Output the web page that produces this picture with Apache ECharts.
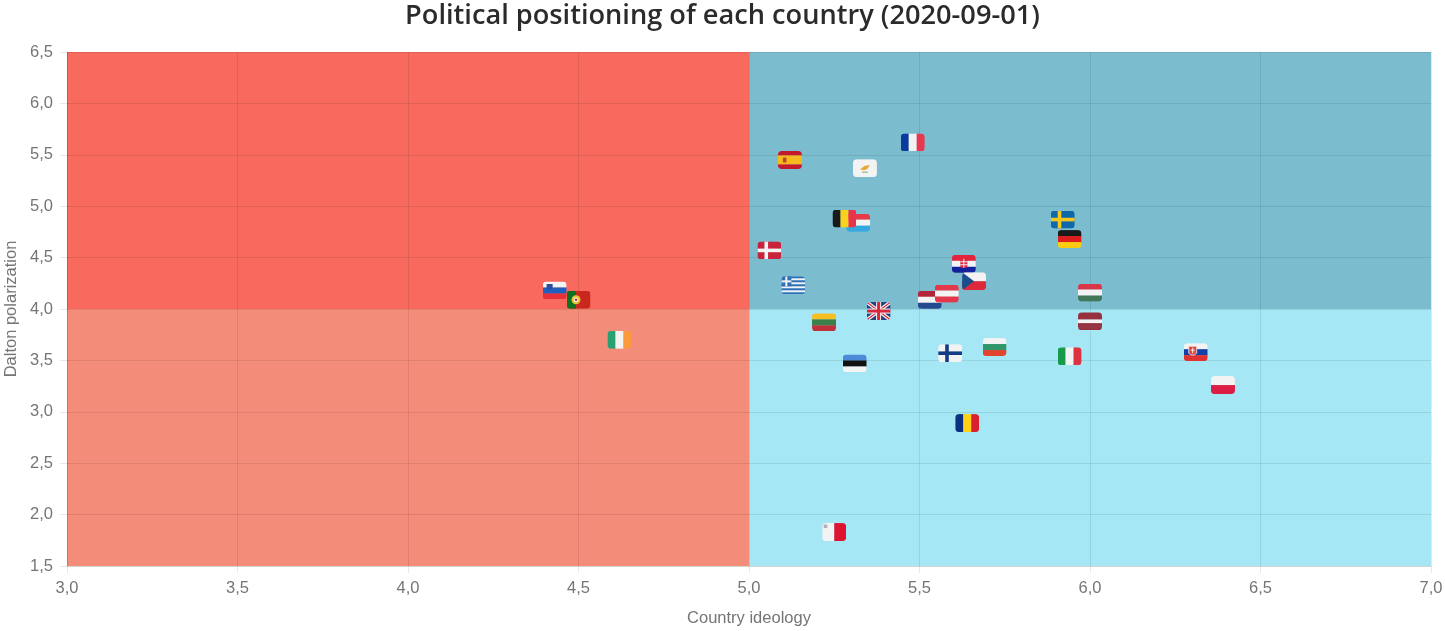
<!DOCTYPE html>
<html>
<head>
<meta charset="utf-8">
<title>Political positioning</title>
<style>
html, body { margin: 0; padding: 0; background: #fff; }
#chart { width: 1445px; height: 631px; }
</style>
<script src="https://cdn.jsdelivr.net/npm/echarts@6/dist/echarts.min.js"></script>
</head>
<body>
<div id="chart"></div>
<script>
var titleText = 'Political positioning of each country (2020-09-01)';
var xAxisName = 'Country ideology';
var yAxisName = 'Dalton polarization';

var countries = ['fr', 'es', 'cy', 'lu', 'be', 'dk', 'se', 'de', 'hr', 'cz', 'nl', 'at', 'hu', 'lv', 'si', 'pt', 'ie', 'gr', 'gb', 'lt', 'ee', 'fi', 'bg', 'it', 'sk', 'pl', 'ro', 'mt'];
var ideology = [5.48, 5.12, 5.34, 5.32, 5.28, 5.06, 5.92, 5.94, 5.63, 5.66, 5.53, 5.58, 6.00, 6.00, 4.43, 4.50, 4.62, 5.13, 5.38, 5.22, 5.31, 5.59, 5.72, 5.94, 6.31, 6.39, 5.64, 5.25];
var polarization = [5.62, 5.45, 5.37, 4.84, 4.88, 4.57, 4.87, 4.68, 4.44, 4.27, 4.09, 4.15, 4.16, 3.88, 4.18, 4.09, 3.70, 4.23, 3.98, 3.87, 3.47, 3.57, 3.63, 3.54, 3.58, 3.26, 2.89, 1.83];

var xMin = 3, xMax = 7, yMin = 1.5, yMax = 6.5;
var xSplit = 5, ySplit = 4;

function hStripes(colors) {
    var h = 18 / colors.length, s = '';
    colors.forEach(function (c, i) {
        s += '<rect x="0" y="' + (i * h) + '" width="24" height="' + (h + 0.2) + '" fill="' + c + '"/>';
    });
    return s;
}

function vStripes(colors) {
    var w = 24 / colors.length, s = '';
    colors.forEach(function (c, i) {
        s += '<rect x="' + (i * w) + '" y="0" width="' + (w + 0.2) + '" height="18" fill="' + c + '"/>';
    });
    return s;
}

function nordic(bg, cross) {
    return '<rect width="24" height="18" fill="' + bg + '"/>' +
        '<rect x="7" width="3.6" height="18" fill="' + cross + '"/>' +
        '<rect y="7.2" width="24" height="3.6" fill="' + cross + '"/>';
}

var flagArt = {
    fr: vStripes(['#0a3a9c', '#f2f2f2', '#e8384f']),
    es: hStripes(['#c4182c', '#f6b81f', '#f6b81f', '#c4182c']) + '<rect x="5" y="6.5" width="3.5" height="5" rx="1" fill="#b5482a"/>',
    cy: '<rect width="24" height="18" fill="#f3f3f3"/><path d="M7 10 L12 6.5 L17 6 L14 10 L11 11 Z" fill="#e6a73a"/><path d="M9 13 L15 13" stroke="#8aa86a" stroke-width="1"/>',
    lu: hStripes(['#e8394a', '#f3f3f3', '#35a8e0']),
    be: vStripes(['#1a1a1a', '#f7d31f', '#e8344a']),
    dk: nordic('#c8233c', '#f3f3f3'),
    se: nordic('#0f69a8', '#f6c81e'),
    de: hStripes(['#1a1a1a', '#dd1c1c', '#fdcb10']),
    hr: hStripes(['#e2253c', '#f3f3f3', '#14219c']) + '<rect x="8.5" y="4" width="7" height="9" rx="1.5" fill="#e2253c"/><path d="M8.5 7H15.5M8.5 10H15.5M12 4V13" stroke="#f3f3f3" stroke-width="1"/>',
    cz: hStripes(['#f2f2f2', '#dc2a3a']) + '<path d="M0 0 L12 9 L0 18 Z" fill="#1b4f8c"/>',
    nl: hStripes(['#b3243a', '#f3f3f3', '#234a8f']),
    at: hStripes(['#e4384a', '#f3f3f3', '#e4384a']),
    hu: hStripes(['#d8384a', '#f3f3f3', '#43775a']),
    lv: hStripes(['#96323f', '#96323f', '#f3f3f3', '#96323f', '#96323f']),
    si: hStripes(['#f3f3f3', '#1f5fc0', '#e8303a']) + '<path d="M4 2.5 H10 V7 Q7 10 4 7 Z" fill="#2b4f9c"/>',
    pt: '<rect width="24" height="18" fill="#c8281e"/><rect width="9.5" height="18" fill="#0f7020"/><circle cx="9.5" cy="9" r="4.5" fill="#e4c434"/><circle cx="9.5" cy="9" r="2.4" fill="#f3f3f3"/><circle cx="9.5" cy="9" r="1.2" fill="#c8281e"/>',
    ie: vStripes(['#2aa070', '#f3f3f3', '#fb9a3c']),
    gr: hStripes(['#2f6fb8', '#f0f4f8', '#2f6fb8', '#f0f4f8', '#2f6fb8', '#f0f4f8', '#2f6fb8', '#f0f4f8', '#2f6fb8']) + '<rect width="10" height="10" fill="#2f6fb8"/><rect x="4" width="2" height="10" fill="#f3f3f3"/><rect y="4" width="10" height="2" fill="#f3f3f3"/>',
    gb: '<rect width="24" height="18" fill="#27407f"/><path d="M0 0 L24 18 M24 0 L0 18" stroke="#f3f3f3" stroke-width="3.6"/><path d="M0 0 L24 18 M24 0 L0 18" stroke="#d8283c" stroke-width="1.2"/><rect x="9.5" width="5" height="18" fill="#f3f3f3"/><rect y="6.5" width="24" height="5" fill="#f3f3f3"/><rect x="10.5" width="3" height="18" fill="#d8283c"/><rect y="7.5" width="24" height="3" fill="#d8283c"/>',
    lt: hStripes(['#f8be24', '#3b8048', '#c0303a']),
    ee: hStripes(['#4c8bd8', '#111111', '#f3f3f3']),
    fi: nordic('#f3f3f3', '#133c86'),
    bg: hStripes(['#f3f3f3', '#2f9668', '#e2452f']),
    it: vStripes(['#189a4a', '#f3f3f3', '#dc3340']),
    sk: hStripes(['#f3f3f3', '#1440a8', '#e03030']) + '<path d="M5 3 H13 V10 Q9 14 5 10 Z" fill="#e2453f" stroke="#f3f3f3" stroke-width="0.8"/><path d="M9 4.5V10M7 7H11" stroke="#f3f3f3" stroke-width="1"/>',
    pl: hStripes(['#f3f3f3', '#dc1e44']),
    ro: vStripes(['#0a3280', '#fcd116', '#d8202e']),
    mt: vStripes(['#f3f3f3', '#dc1430']) + '<rect x="1.5" y="1.5" width="3.5" height="3.5" fill="#b0b0b0"/>'
};

function flagSymbol(code) {
    var svg = '<svg xmlns="http://www.w3.org/2000/svg" width="24" height="18" viewBox="0 0 24 18">' +
        '<defs><clipPath id="r"><rect width="24" height="18" rx="4"/></clipPath></defs>' +
        '<g clip-path="url(#r)">' + flagArt[code] + '</g></svg>';
    return 'image://data:image/svg+xml;charset=utf-8,' + encodeURIComponent(svg);
}

function commaLabel(v) {
    return v.toFixed(1).replace('.', ',');
}

var flagData = countries.map(function (code, i) {
    return {
        name: code,
        value: [ideology[i], polarization[i]],
        symbol: flagSymbol(code)
    };
});

var gridLine = {show: true, lineStyle: {color: 'rgba(0,0,0,0.09)', width: 1}};
var axisFont = {color: '#757575', fontSize: 16.5, fontFamily: 'Liberation Sans'};

var myChart = echarts.init(document.getElementById('chart'), null, {renderer: 'canvas'});
myChart.setOption({
    animation: false,
    backgroundColor: '#fff',
    title: {
        text: titleText,
        left: 'center',
        top: -2,
        textStyle: {fontFamily: 'Open Sans', fontSize: 27.2, fontWeight: 600, color: '#2b2b2b'}
    },
    grid: {left: 67, right: 14, top: 52, bottom: 65, outerBoundsMode: 'none'},
    xAxis: {
        type: 'value',
        min: xMin,
        max: xMax,
        interval: 0.5,
        z: 3,
        name: xAxisName,
        nameLocation: 'middle',
        nameGap: 44,
        nameMoveOverlap: false,
        nameTextStyle: axisFont,
        axisLine: {show: true, onZero: false, lineStyle: {color: 'rgba(0,0,0,0.09)'}},
        axisTick: {show: true, length: 7, lineStyle: {color: 'rgba(0,0,0,0.09)'}},
        axisLabel: Object.assign({formatter: commaLabel, margin: 14, hideOverlap: false, showMinLabel: true, showMaxLabel: true}, axisFont),
        splitLine: gridLine
    },
    yAxis: {
        type: 'value',
        min: yMin,
        max: yMax,
        interval: 0.5,
        z: 3,
        name: yAxisName,
        nameLocation: 'middle',
        nameGap: 47,
        nameMoveOverlap: false,
        nameTextStyle: axisFont,
        axisLine: {show: true, onZero: false, lineStyle: {color: 'rgba(0,0,0,0.09)'}},
        axisTick: {show: true, length: 7, lineStyle: {color: 'rgba(0,0,0,0.09)'}},
        axisLabel: Object.assign({formatter: commaLabel, margin: 14, showMinLabel: true, showMaxLabel: true}, axisFont),
        splitLine: gridLine
    },
    series: [
        {
            // quadrant backgrounds
            type: 'scatter',
            silent: true,
            z: 1,
            symbolSize: 0,
            data: [],
            markArea: {
                silent: true,
                itemStyle: {opacity: 1},
                data: [
                    [{coord: [xMin, ySplit], itemStyle: {color: '#f8695e'}}, {coord: [xSplit, yMax]}],
                    [{coord: [xSplit, ySplit], itemStyle: {color: '#7bbdcf'}}, {coord: [xMax, yMax]}],
                    [{coord: [xMin, yMin], itemStyle: {color: '#f48c7a'}}, {coord: [xSplit, ySplit]}],
                    [{coord: [xSplit, yMin], itemStyle: {color: '#a6e7f6'}}, {coord: [xMax, ySplit]}]
                ]
            }
        },
        {
            type: 'scatter',
            z: 5,
            symbolSize: [24, 18],
            symbolKeepAspect: false,
            itemStyle: {opacity: 1},
            data: flagData
        }
    ]
});
</script>
</body>
</html>
